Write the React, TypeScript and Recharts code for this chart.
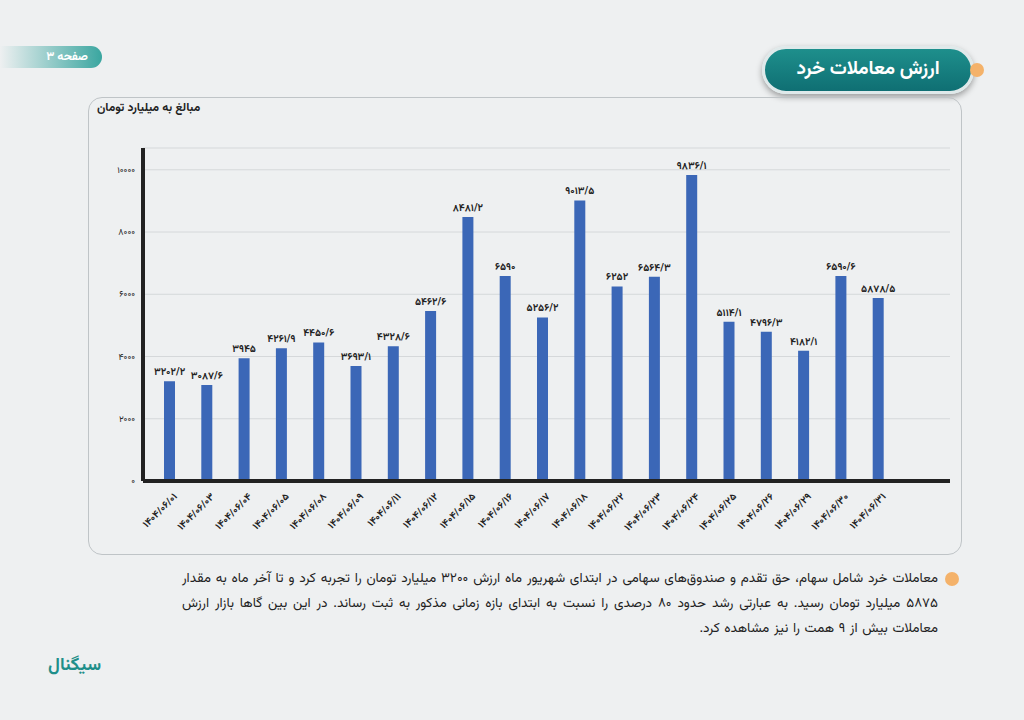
import React from "react";
import { BarChart, Bar, XAxis, YAxis, CartesianGrid, LabelList } from "recharts";

const dates = ["01","03","04","05","08","09","11","12","15","16","17","18","22","23","24","25","26","29","30","31"];
const values = [3202.2,3087.6,3945,4261.9,4450.6,3693.1,4328.6,5462.6,8481.2,6590,5256.2,9013.5,6252,6564.3,9836.1,5114.1,4796.3,4182.1,6590.6,5878.5];
const yTicks = [0,2000,4000,6000,8000,10000];

const fa = (s: string) => s.replace(/[0-9]/g, (d) => "۰۱۲۳۴۵۶۷۸۹"[+d]);
const fmt = (v: number) => fa(String(v).replace(".", "/"));
const data = dates.map((d, i) => ({ name: fa(`1404/06/${d}`), v: values[i] }));

const font = "Vazirmatn, 'Noto Sans', 'DejaVu Sans', sans-serif";

const XTick = (p: any) => (
  <text x={p.x + 8} y={p.y + 8} transform={`rotate(-45 ${p.x + 8} ${p.y + 8})`} textAnchor="end" fontSize={10} fontWeight={700} fill="#222" fontFamily={font}>
    {p.payload.value}
  </text>
);

export default function App() {
  return (
    <div style={{ position: "absolute", left: 0, top: 0, width: 1024, height: 720, background: "#eef0f1", fontFamily: font, overflow: "hidden" }}>
      <div style={{ position: "absolute", left: 0, top: 46, width: 102, height: 22, borderRadius: "0 12px 12px 0", background: "linear-gradient(90deg,#eef0f1,#3aa6a0)", color: "#fff", fontSize: 12, fontWeight: 700, textAlign: "right", lineHeight: "22px", direction: "rtl" }}>
        <span style={{ marginRight: 14 }}>صفحه ۳</span>
      </div>
      <div style={{ position: "absolute", left: 762, top: 46, width: 212, height: 48, borderRadius: 24, background: "linear-gradient(180deg,#1e8f8c,#0f6f73)", boxShadow: "0 3px 6px rgba(0,0,0,0.35)", border: "3px solid #dfe9ea", boxSizing: "border-box", color: "#fff", fontSize: 19, fontWeight: 700, textAlign: "center", lineHeight: "42px", direction: "rtl" }}>
        ارزش معاملات خرد
      </div>
      <div style={{ position: "absolute", left: 970, top: 63, width: 14, height: 14, borderRadius: 7, background: "#f4b26a" }} />
      <div style={{ position: "absolute", left: 88, top: 97, width: 874, height: 458, border: "1px solid #bfc4c7", borderRadius: 14, boxSizing: "border-box" }} />
      <div style={{ position: "absolute", left: 97, top: 99, fontSize: 12, fontWeight: 700, color: "#222", direction: "rtl" }}>مبالغ به میلیارد تومان</div>
      <div style={{ position: "absolute", left: 88, top: 97 }}>
        <BarChart width={874} height={458} data={data} margin={{ top: 51, right: 12, left: 0, bottom: 0 }} barCategoryGap={13}>
          <CartesianGrid vertical={false} stroke="#d5d8da" />
          <XAxis dataKey="name" interval={0} tick={<XTick />} tickLine={false} axisLine={{ stroke: "#222", strokeWidth: 4 }} padding={{ left: 8, right: 53 }} height={74} />
          <YAxis domain={[0, 10700]} ticks={yTicks} width={55} tickFormatter={(v: number) => fa(String(v))} tick={{ fontSize: 9, fill: "#222", fontFamily: font }} tickLine={false} axisLine={{ stroke: "#222", strokeWidth: 4 }} />
          <Bar dataKey="v" fill="#3b67b7" isAnimationActive={false}>
            <LabelList dataKey="v" position="top" offset={6} formatter={(v: number) => fmt(v)} style={{ fontSize: 10, fontWeight: 700, fill: "#222", fontFamily: font }} />
          </Bar>
        </BarChart>
      </div>
      <div style={{ position: "absolute", left: 945, top: 572, width: 14, height: 14, borderRadius: 7, background: "#f4b26a" }} />
      <div style={{ position: "absolute", left: 182, top: 566, width: 756, direction: "rtl", textAlign: "justify", fontSize: 13.5, lineHeight: "25px", color: "#222", wordSpacing: 1 }}>
        معاملات خرد شامل سهام، حق تقدم و صندوق‌های سهامی در ابتدای شهریور ماه ارزش ۳۲۰۰ میلیارد تومان را تجربه کرد و تا آخر ماه به مقدار ۵۸۷۵ میلیارد تومان رسید. به عبارتی رشد حدود ۸۰ درصدی را نسبت به ابتدای بازه زمانی مذکور به ثبت رساند. در این بین گاها بازار ارزش معاملات بیش از ۹ همت را نیز مشاهده کرد.
      </div>
      <div style={{ position: "absolute", left: 48, top: 652, fontSize: 18, fontWeight: 700, color: "#1f8f8a", direction: "rtl" }}>سیگنال</div>
    </div>
  );
}
